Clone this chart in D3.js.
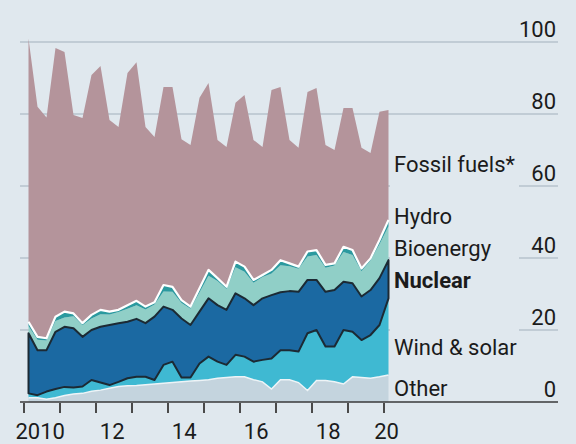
<!DOCTYPE html>
<html lang="en">
<head>
<meta charset="utf-8">
<script src="https://d3js.org/d3.v7.min.js"></script>
<style>
  body { margin: 0; background: #e0e8ee; }
  text { font-family: Roboto, "Liberation Sans", sans-serif; fill: #1b1b1b; }
</style>
</head>
<body>
<script>
// quarterly shares, index 2010Q1 = 100
var quarters = ["2010Q1","2010Q2","2010Q3","2010Q4","2011Q1","2011Q2","2011Q3","2011Q4",
  "2012Q1","2012Q2","2012Q3","2012Q4","2013Q1","2013Q2","2013Q3","2013Q4",
  "2014Q1","2014Q2","2014Q3","2014Q4","2015Q1","2015Q2","2015Q3","2015Q4",
  "2016Q1","2016Q2","2016Q3","2016Q4","2017Q1","2017Q2","2017Q3","2017Q4",
  "2018Q1","2018Q2","2018Q3","2018Q4","2019Q1","2019Q2","2019Q3","2019Q4","2020Q1"];

var other     = [1.2,1.2,0.8,1.2, 1.8,2.2,2.4,3.0, 3.3,3.8,4.3,4.5, 4.6,4.8,5.0,5.2, 5.4,5.6,5.8,6.0,
                 6.2,6.6,6.8,7.0, 7.0,6.2,5.6,3.6, 6.2,6.2,5.4,3.2, 6.0,6.0,5.6,5.0, 7.0,6.8,6.6,7.0, 7.5];
var windSolar = [1.2,0.7,2.1,2.4, 2.4,1.8,1.9,3.1, 2.1,0.9,1.3,2.1, 2.4,2.2,1.1,5.1, 5.8,1.2,1.0,4.7,
                 6.4,4.6,3.5,6.1, 5.6,5.0,6.1,8.5, 8.2,8.2,8.6,15.9, 14.0,9.4,9.8,15.0, 12.5,10.4,12.0,14.4, 21.3];
var nuclear   = [16.7,12.5,11.5,15.9, 16.7,16.5,13.8,13.9, 15.5,16.7,16.3,15.7, 16.1,14.9,17.6,16.2, 14.4,16.4,14.6,14.4,
                 16.2,15.7,15.3,17.1, 16.2,15.7,17.1,17.6, 16.1,16.4,16.6,14.8, 13.9,15.2,15.7,13.4, 13.5,12.1,12.5,13.0, 10.6];
var bioenergy = [2.0,2.9,2.7,3.0, 2.6,3.3,3.2,3.2, 3.5,2.9,3.1,3.6, 3.8,3.8,3.4,4.2, 5.0,4.3,4.5,5.3,
                 6.3,6.7,5.8,7.2, 7.4,6.2,5.9,6.0, 7.5,6.9,6.4,6.5, 6.9,6.7,6.8,8.3, 7.8,7.0,8.2,9.4, 9.4];
var hydro     = [1.2,0.8,0.6,1.2, 1.6,0.8,0.6,1.0, 1.2,0.8,0.6,1.0, 1.2,0.8,0.6,1.8, 1.4,0.8,0.6,1.2,
                 1.6,0.8,0.6,1.6, 1.4,0.8,0.6,1.0, 1.4,0.8,0.6,1.4, 1.4,0.8,0.6,1.4, 1.4,0.8,0.6,1.2, 1.8];
var fossil    = [78.7,63.9,61.3,74.6, 72.1,55.1,57.0,66.6, 67.7,53.2,50.8,64.5, 66.3,49.9,45.9,55.0, 55.5,44.7,44.9,52.9,
                 51.9,38.4,38.8,44.1, 47.7,38.9,35.5,50.0, 48.1,34.3,33.0,44.3, 45.0,33.3,31.5,38.6, 39.5,33.5,29.3,35.6, 30.5];

var keys   = ["other", "windSolar", "nuclear", "bioenergy", "hydro", "fossil"];
var names  = ["Other", "Wind & solar", "Nuclear", "Bioenergy", "Hydro", "Fossil fuels*"];
var colors = ["#c4d4de", "#3fb9d2", "#1b69a2", "#90cfc7", "#2b9a9f", "#b4949b"];
var labelY = [396, 355, 288, 256, 224, 172];

var yTicks = [0, 20, 40, 60, 80, 100];
var xTickYears = [2010, 2011, 2012, 2013, 2014, 2015, 2016, 2017, 2018, 2019, 2020];
var xLabelYears = [2010, 2012, 2014, 2016, 2018, 2020];
var xLabels = ["2010", "12", "14", "16", "18", "20"];

var width = 576, height = 444;

var x = d3.scaleLinear().domain([2010, 2020]).range([24, 384]);
var y = d3.scaleLinear().domain([0, 100]).range([402, 42]);

var rows = quarters.map(function(q, i) {
  return {
    t: +q.slice(0, 4) + (+q.slice(5) - 0.5) / 4,
    other: other[i], windSolar: windSolar[i], nuclear: nuclear[i],
    bioenergy: bioenergy[i], hydro: hydro[i], fossil: fossil[i]
  };
});
var series = d3.stack().keys(keys)(rows);

var svg = d3.select("body").append("svg")
    .attr("width", width)
    .attr("height", height);

svg.append("rect")
    .attr("width", width).attr("height", height)
    .attr("fill", "#e0e8ee");

// gridlines (the lower ones are broken where the labels sit)
yTicks.slice(1).forEach(function(v) {
  var segs = v >= 80 ? [[20, 558]] : [[20, 390], [519, 558]];
  segs.forEach(function(s) {
    svg.append("line")
        .attr("x1", s[0]).attr("x2", s[1])
        .attr("y1", y(v)).attr("y2", y(v))
        .attr("stroke", "#b7c3cc")
        .attr("stroke-width", 1.5);
  });
});

var area = d3.area()
    .x(function(d) { return x(d.data.t); })
    .y0(function(d) { return y(d[0]); })
    .y1(function(d) { return y(d[1]); });

svg.selectAll(".layer")
    .data(series)
    .enter()
    .append("path")
    .attr("class", "layer")
    .attr("d", area)
    .attr("fill", function(d, i) { return colors[i]; });

var topLine = d3.line()
    .x(function(d) { return x(d.data.t); })
    .y(function(d) { return y(d[1]); });

// light edge on top of "other"
svg.append("path")
    .attr("d", topLine(series[0]))
    .attr("fill", "none")
    .attr("stroke", "#eef4f7")
    .attr("stroke-width", 1.5);

// dark outline round nuclear
svg.append("path")
    .attr("d", area(series[2]))
    .attr("fill", "none")
    .attr("stroke", "#1c2a34")
    .attr("stroke-width", 2)
    .attr("stroke-linejoin", "round");

// white edge under fossil fuels
svg.append("path")
    .attr("d", topLine(series[4]))
    .attr("fill", "none")
    .attr("stroke", "#ffffff")
    .attr("stroke-width", 2.2)
    .attr("stroke-linejoin", "round");

// zero line and ticks
svg.append("line")
    .attr("x1", 20).attr("x2", 558)
    .attr("y1", y(0)).attr("y2", y(0))
    .attr("stroke", "#3a3a3a")
    .attr("stroke-width", 1.6);

svg.selectAll(".tick")
    .data(xTickYears)
    .enter()
    .append("line")
    .attr("class", "tick")
    .attr("x1", function(d) { return x(d); })
    .attr("x2", function(d) { return x(d); })
    .attr("y1", y(0) + 1).attr("y2", y(0) + 11)
    .attr("stroke", "#4a4a4a")
    .attr("stroke-width", 2);

svg.selectAll(".xlab")
    .data(xLabelYears)
    .enter()
    .append("text")
    .attr("class", "xlab")
    .attr("x", function(d) { return x(Math.min(d + 0.45, 2020.07)); })
    .attr("y", 439)
    .attr("text-anchor", "middle")
    .attr("font-size", 22)
    .text(function(d, i) { return xLabels[i]; });

svg.selectAll(".ylab")
    .data(yTicks)
    .enter()
    .append("text")
    .attr("class", "ylab")
    .attr("x", 556)
    .attr("y", function(d) { return y(d) - 5; })
    .attr("text-anchor", "end")
    .attr("font-size", 22)
    .text(function(d) { return d; });

svg.selectAll(".name")
    .data(names)
    .enter()
    .append("text")
    .attr("class", "name")
    .attr("x", 394)
    .attr("y", function(d, i) { return labelY[i]; })
    .attr("font-size", 22)
    .attr("font-weight", function(d) { return d == "Nuclear" ? "bold" : "normal"; })
    .text(function(d) { return d; });
</script>
</body>
</html>
